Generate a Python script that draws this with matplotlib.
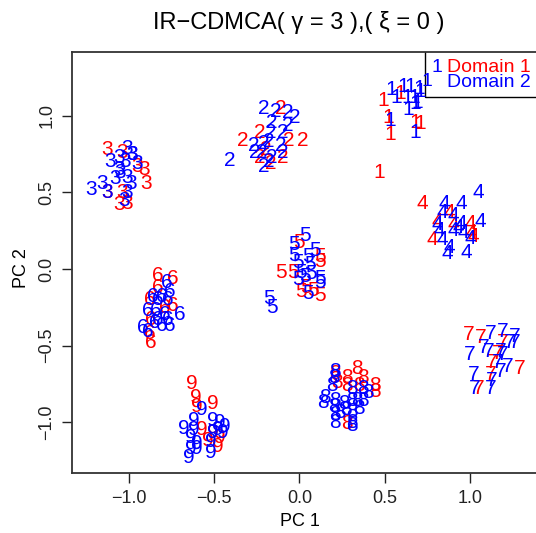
import matplotlib
matplotlib.use("Agg")
import matplotlib.pyplot as plt
from matplotlib.patches import Rectangle

plt.rcParams['font.family'] = ['Liberation Sans', 'DejaVu Sans']

# class labels, PC1/PC2 per domain
d1 = {
    '1': ([0.49, 0.52, 0.53, 0.59, 0.68, 0.71, 0.47],
          [1.10, 0.99, 0.88, 1.15, 0.96, 0.95, 0.63]),
    '2': ([-0.11, -0.33, -0.23, -0.06, 0.02, -0.20, -0.17, -0.10, -0.23],
          [1.05, 0.84, 0.89, 0.84, 0.84, 0.78, 0.69, 0.73, 0.73]),
    '3': ([-1.13, -1.04, -0.95, -0.91, -0.90, -1.04, -1.06, -1.01, -1.13],
          [0.78, 0.76, 0.67, 0.65, 0.56, 0.50, 0.42, 0.43, 0.50]),
    '4': ([0.72, 0.88, 0.81, 0.90, 1.00, 1.01, 0.78, 1.02],
          [0.43, 0.37, 0.31, 0.29, 0.30, 0.24, 0.19, 0.21]),
    '5': ([0.00, 0.12, 0.12, -0.11, -0.04, 0.01, 0.08, 0.12, 0.04],
          [0.17, 0.08, 0.05, -0.02, -0.02, -0.15, -0.14, -0.17, -0.12]),
    '6': ([-0.83, -0.74, -0.83, -0.88, -0.74, -0.87, -0.88, -0.87, -0.79],
          [-0.04, -0.06, -0.12, -0.20, -0.24, -0.33, -0.42, -0.48, -0.25]),
    '7': ([0.99, 1.06, 1.19, 1.13, 1.29, 1.12, 1.05, 1.16],
          [-0.43, -0.45, -0.48, -0.61, -0.65, -0.69, -0.78, -0.55]),
    '8': ([0.21, 0.28, 0.34, 0.37, 0.44, 0.44, 0.28, 0.35, 0.28, 0.22],
          [-0.68, -0.71, -0.65, -0.71, -0.76, -0.80, -0.76, -0.76, -1.01, -0.74]),
    '9': ([-0.63, -0.61, -0.60, -0.51, -0.57, -0.51, -0.48, -0.47, -0.54],
          [-0.75, -0.84, -0.90, -0.88, -1.05, -1.07, -1.16, -1.10, -1.12]),
}

d2 = {
    '1': ([0.54, 0.57, 0.61, 0.63, 0.65, 0.67, 0.70, 0.68, 0.64, 0.53, 0.68, 0.69, 0.71],
          [1.17, 1.12, 1.19, 1.12, 1.19, 1.12, 1.18, 1.08, 1.04, 0.97, 0.89, 1.09, 1.16]),
    '2': ([-0.21, -0.14, -0.07, -0.03, -0.16, -0.07, -0.17, -0.10, -0.27, -0.21,
           -0.18, -0.11, -0.26, -0.22, -0.16, -0.10, -0.41, -0.21, -0.18],
          [1.05, 1.03, 1.02, 0.99, 0.96, 0.94, 0.89, 0.89, 0.81, 0.82,
           0.83, 0.81, 0.76, 0.76, 0.73, 0.76, 0.71, 0.67, 0.70]),
    '3': ([-1.01, -0.98, -1.11, -1.06, -1.02, -0.95, -1.05, -1.01, -1.08, -0.99,
           -1.22, -1.16, -1.13, -1.01, -1.03, -0.98, -1.06],
          [0.79, 0.75, 0.70, 0.73, 0.70, 0.69, 0.63, 0.60, 0.59, 0.56,
           0.52, 0.56, 0.50, 0.50, 0.45, 0.75, 0.65]),
    '4': ([1.05, 0.95, 0.85, 0.84, 0.90, 0.81, 0.82, 0.90, 0.95, 0.96,
           1.06, 1.00, 0.84, 0.88, 0.87, 0.98, 0.93],
          [0.50, 0.43, 0.43, 0.37, 0.35, 0.29, 0.25, 0.25, 0.30, 0.24,
           0.31, 0.20, 0.19, 0.14, 0.10, 0.11, 0.27]),
    '5': ([0.03, -0.03, 0.09, -0.03, 0.05, -0.01, 0.06, 0.01, 0.07, -0.01,
           0.12, 0.12, 0.05, -0.18, -0.16, 0.03],
          [0.22, 0.16, 0.12, 0.09, 0.08, 0.04, 0.03, -0.02, -0.03, -0.07,
           -0.06, -0.09, -0.16, -0.19, -0.25, -0.05]),
    '6': ([-0.78, -0.76, -0.86, -0.81, -0.89, -0.83, -0.77, -0.84, -0.79, -0.70,
           -0.83, -0.77, -0.81, -0.92, -0.89, -0.85, -0.76],
          [-0.09, -0.15, -0.18, -0.18, -0.27, -0.20, -0.20, -0.27, -0.30, -0.30,
           -0.33, -0.33, -0.37, -0.38, -0.41, -0.35, -0.37]),
    '7': ([1.12, 1.19, 1.26, 1.23, 1.26, 1.00, 1.08, 1.11, 1.18, 1.19,
           1.16, 1.22, 1.18, 1.02, 1.13, 1.03, 1.12],
          [-0.42, -0.41, -0.44, -0.48, -0.48, -0.56, -0.51, -0.54, -0.54, -0.56,
           -0.61, -0.64, -0.67, -0.69, -0.73, -0.78, -0.78]),
    '8': ([0.21, 0.20, 0.19, 0.31, 0.37, 0.40, 0.15, 0.14, 0.21, 0.26, 0.31,
           0.34, 0.20, 0.27, 0.31, 0.35, 0.21, 0.21, 0.31, 0.31, 0.24, 0.37],
          [-0.67, -0.71, -0.76, -0.78, -0.78, -0.81, -0.84, -0.87, -0.86, -0.88, -0.86,
           -0.86, -0.90, -0.92, -0.93, -0.91, -0.95, -1.00, -1.00, -1.02, -0.94, -0.86]),
    '9': ([-0.57, -0.62, -0.68, -0.62, -0.51, -0.47, -0.44, -0.51, -0.64, -0.60,
           -0.64, -0.60, -0.52, -0.52, -0.65, -0.48, -0.45],
          [-0.92, -0.99, -1.04, -1.05, -0.99, -1.00, -1.03, -1.07, -1.10, -1.14,
           -1.17, -1.17, -1.13, -1.20, -1.23, -1.05, -1.07]),
}

xticks = [-1.0, -0.5, 0.0, 0.5, 1.0]
yticks = [-1.0, -0.5, 0.0, 0.5, 1.0]
xticklabels = ['\u22121.0', '\u22120.5', '0.0', '0.5', '1.0']
yticklabels = ['\u22121.0', '\u22120.5', '0.0', '0.5', '1.0']

W, H = 536, 533
fig = plt.figure(figsize=(W / 100, H / 100), dpi=100)
# axes box in pixels: left 72, right 545 (runs off the image), top 52, bottom 473
ax = fig.add_axes([72 / W, (H - 473) / H, (545 - 72) / W, (473 - 52) / H])
ax.set_xlim(-1.334, 1.440)
ax.set_ylim(-1.333, 1.418)

for lab, (xs, ys) in d1.items():
    for x, y in zip(xs, ys):
        ax.text(x, y, lab, color='#FF0000', fontsize=15, ha='center', va='center')
for lab, (xs, ys) in d2.items():
    for x, y in zip(xs, ys):
        ax.text(x, y, lab, color='#0000FF', fontsize=15, ha='center', va='center')

ax.set_xticks(xticks)
ax.set_xticklabels(xticklabels)
ax.set_yticks(yticks)
ax.set_yticklabels(yticklabels, rotation=90, va='center')
ax.tick_params(direction='out', length=7, width=1, labelsize=13, pad=5, colors='#222222')
for s in ax.spines.values():
    s.set_linewidth(1.3)
    s.set_color('#333333')

# legend drawn by hand, like R's legend("topright")
ax.add_patch(Rectangle((0.736, 1.124), 1.0, 0.5, fill=False, edgecolor='black',
                       linewidth=1.0, clip_on=True))
ax.text(0.806, 1.314, '1', color='#0000FF', fontsize=14, ha='center', va='center')
ax.text(0.748, 1.222, '1', color='#0000FF', fontsize=14, ha='center', va='center')
ax.text(0.868, 1.314, 'Domain 1', color='#FF0000', fontsize=14, ha='left', va='center')
ax.text(0.868, 1.216, 'Domain 2', color='#0000FF', fontsize=14, ha='left', va='center')

fig.text(299 / W, 1 - 22 / H, 'IR\u2212CDMCA( \u03b3 = 3 ),( \u03be = 0 )',
         fontsize=17, ha='center', va='center')
fig.text(300 / W, 1 - 522 / H, 'PC 1', fontsize=13, ha='center', va='center')
fig.text(22 / W, 1 - 268 / H, 'PC 2', fontsize=13, ha='center', va='center', rotation=90)

fig.savefig('out.png', dpi=100)
